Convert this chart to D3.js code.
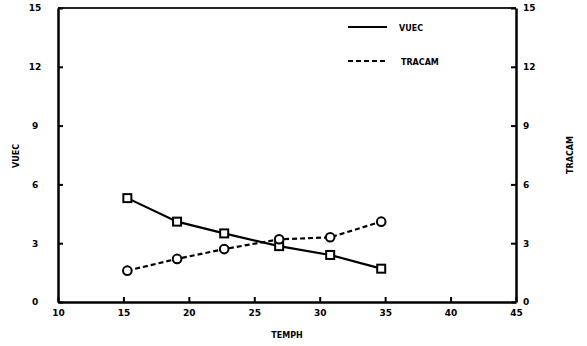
<!DOCTYPE html>
<html><head><meta charset="utf-8">
<script src="https://cdn.jsdelivr.net/npm/d3@7"></script>
<style>body{margin:0;background:#fff}text{font-family:"DejaVu Sans",sans-serif;font-weight:bold;fill:#000}</style>
</head><body><svg id="c" width="587" height="346"></svg>
<script>
const temps = [15.3, 19.1, 22.7, 26.9, 30.8, 34.7];
const vuec = [5.3, 4.1, 3.5, 2.85, 2.4, 1.7];
const tracam = [1.6, 2.2, 2.7, 3.2, 3.3, 4.1];
const xTicks = [10, 15, 20, 25, 30, 35, 40, 45];
const yTicks = [0, 3, 6, 9, 12, 15];
const seriesNames = ["VUEC", "TRACAM"];

const svg = d3.select("#c");
const x = d3.scaleLinear().domain([10, 45]).range([58, 516]);
const y = d3.scaleLinear().domain([0, 15]).range([302, 8]);
const y2 = d3.scaleLinear().domain([0, 15]).range([302, 8]);

// frame
svg.append("line").attr("x1", 58).attr("x2", 516).attr("y1", 8).attr("y2", 8).attr("stroke", "#222").attr("stroke-width", 2);

const fmt = d => String(d);
const bx = svg.append("g").attr("transform", "translate(0,302)")
  .call(d3.axisBottom(x).tickValues(xTicks).tickSizeInner(-5).tickSizeOuter(0).tickPadding(8).tickFormat(fmt));
const ly = svg.append("g").attr("transform", "translate(58,0)")
  .call(d3.axisLeft(y).tickValues(yTicks).tickSizeInner(-5).tickSizeOuter(0).tickPadding(20).tickFormat(fmt));
const ry = svg.append("g").attr("transform", "translate(516,0)")
  .call(d3.axisRight(y2).tickValues(yTicks).tickSizeInner(-5).tickSizeOuter(0).tickPadding(7).tickFormat(fmt));
[bx, ly, ry].forEach(g => {
  g.select(".domain").attr("stroke", "#000").attr("stroke-width", 2.5);
  g.selectAll(".tick line").attr("stroke", "#000").attr("stroke-width", 2);
  g.selectAll(".tick text").style("font-size", "9px").style("font-weight", "bold").attr("fill", "#000").style("font-family", "DejaVu Sans");
});
ly.selectAll(".tick text").attr("text-anchor", "middle").attr("dx", "-3");

const pts = s => temps.map((t, i) => [x(t), y(s[i])]);
const line = d3.line();
svg.append("path").attr("d", line(pts(vuec))).attr("fill", "none").attr("stroke", "#000").attr("stroke-width", 2.2);
svg.append("path").attr("d", line(pts(tracam))).attr("fill", "none").attr("stroke", "#000").attr("stroke-width", 2.2).attr("stroke-dasharray", "5,3");

svg.selectAll("rect.m").data(pts(vuec)).join("rect").attr("class", "m")
  .attr("x", d => d[0] - 4).attr("y", d => d[1] - 4).attr("width", 8).attr("height", 8)
  .attr("fill", "#fff").attr("stroke", "#000").attr("stroke-width", 2);
svg.selectAll("circle.m").data(pts(tracam)).join("circle").attr("class", "m")
  .attr("cx", d => d[0]).attr("cy", d => d[1]).attr("r", 4.3)
  .attr("fill", "#fff").attr("stroke", "#000").attr("stroke-width", 2);

// legend
svg.append("line").attr("x1", 348).attr("x2", 387).attr("y1", 27).attr("y2", 27).attr("stroke", "#000").attr("stroke-width", 2.2);
svg.append("line").attr("x1", 348).attr("x2", 387).attr("y1", 61).attr("y2", 61).attr("stroke", "#000").attr("stroke-width", 2.2).attr("stroke-dasharray", "5,3");
svg.append("text").attr("x", 399).attr("y", 31).style("font-size", "8px").text(seriesNames[0]);
svg.append("text").attr("x", 401).attr("y", 65).style("font-size", "8px").text(seriesNames[1]);

// axis titles
svg.append("text").attr("transform", "translate(19,156) rotate(-90)").attr("text-anchor", "middle").style("font-size", "8px").text("VUEC");
svg.append("text").attr("transform", "translate(573,155) rotate(-90)").attr("text-anchor", "middle").style("font-size", "8px").text("TRACAM");
svg.append("text").attr("x", 287).attr("y", 338).attr("text-anchor", "middle").style("font-size", "8px").text("TEMPH");
</script></body></html>
